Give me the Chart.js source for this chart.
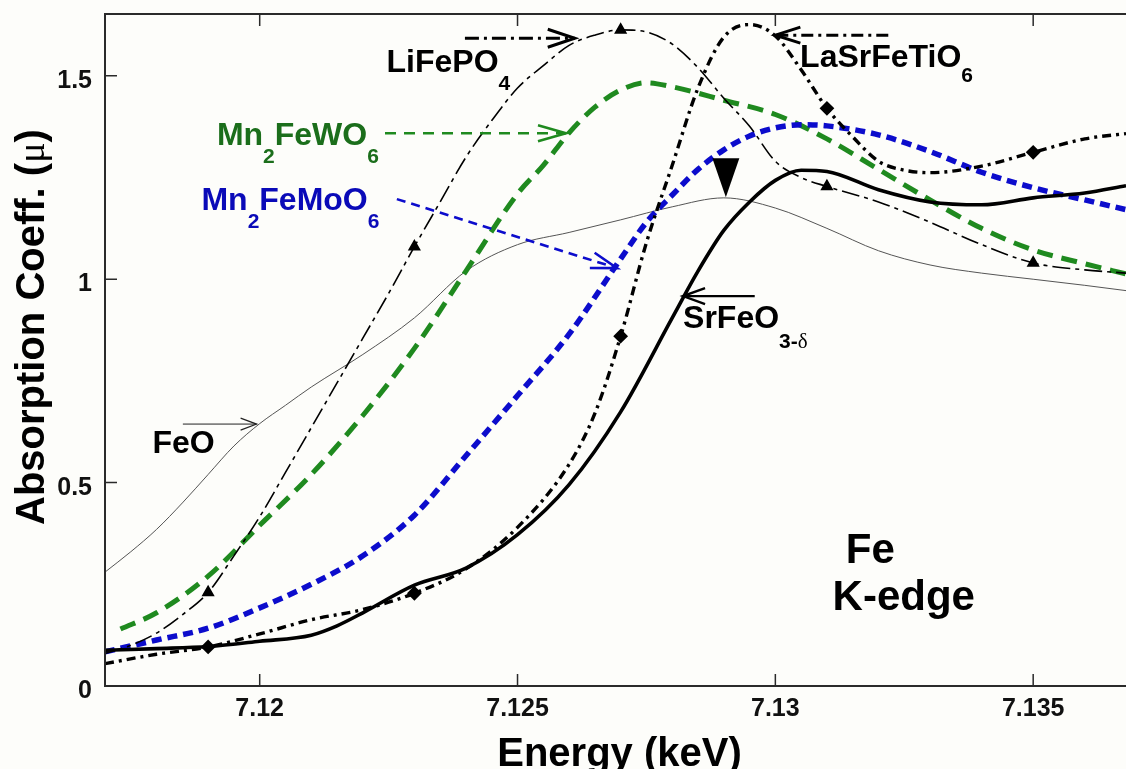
<!DOCTYPE html>
<html>
<head>
<meta charset="utf-8">
<script src="https://cdn.jsdelivr.net/npm/chart.js@4.4.1/dist/chart.umd.min.js"></script>
<style>
html,body{margin:0;padding:0;background:#fdfdfa;}
#wrap{width:1126px;height:769px;position:relative;overflow:hidden;}
canvas{display:block;}
</style>
</head>
<body>
<div id="wrap"><canvas id="c" width="1126" height="769"></canvas></div>
<script>
// ---------------- data ----------------
const xTicks = [7.12, 7.125, 7.13, 7.135];
const yTicks = [0, 0.5, 1, 1.5];
const markerEnergies = [7.119, 7.123, 7.127, 7.131, 7.135];

const energyFeO = [7.117, 7.1175, 7.118, 7.1185, 7.119, 7.1195, 7.12, 7.1205, 7.121, 7.122, 7.123, 7.124, 7.125, 7.126, 7.127, 7.128, 7.129, 7.13, 7.131, 7.132, 7.133, 7.134, 7.135, 7.136, 7.1368];
const muFeO     = [0.28, 0.33, 0.385, 0.45, 0.52, 0.59, 0.645, 0.69, 0.735, 0.815, 0.905, 1.02, 1.085, 1.115, 1.146, 1.178, 1.20, 1.175, 1.125, 1.07, 1.035, 1.015, 1.0, 0.985, 0.972];

const energyLiFePO4 = [7.117, 7.1175, 7.118, 7.1185, 7.119, 7.1195, 7.12, 7.1205, 7.121, 7.1215, 7.122, 7.1225, 7.123, 7.1235, 7.124, 7.1245, 7.125, 7.1255, 7.126, 7.1265, 7.127, 7.1275, 7.128, 7.1285, 7.129, 7.1295, 7.13, 7.1305, 7.131, 7.132, 7.133, 7.134, 7.135, 7.136, 7.1368];
const muLiFePO4     = [0.08, 0.10, 0.13, 0.175, 0.23, 0.32, 0.416, 0.525, 0.635, 0.745, 0.855, 0.965, 1.08, 1.19, 1.30, 1.39, 1.47, 1.525, 1.575, 1.60, 1.613, 1.608, 1.578, 1.52, 1.445, 1.376, 1.29, 1.25, 1.228, 1.19, 1.14, 1.085, 1.04, 1.023, 1.015];

const energyMn2FeWO6 = [7.1173, 7.118, 7.119, 7.12, 7.121, 7.122, 7.123, 7.124, 7.125, 7.1255, 7.126, 7.1265, 7.127, 7.1275, 7.128, 7.129, 7.13, 7.131, 7.132, 7.133, 7.134, 7.135, 7.136, 7.1368];
const muMn2FeWO6     = [0.14, 0.18, 0.27, 0.395, 0.52, 0.665, 0.83, 1.02, 1.21, 1.28, 1.36, 1.423, 1.465, 1.483, 1.473, 1.44, 1.405, 1.345, 1.27, 1.195, 1.125, 1.072, 1.038, 1.013];

const energyMn2FeMoO6 = [7.117, 7.118, 7.119, 7.12, 7.121, 7.122, 7.123, 7.124, 7.125, 7.126, 7.127, 7.1275, 7.128, 7.1285, 7.129, 7.1295, 7.13, 7.1305, 7.131, 7.132, 7.133, 7.134, 7.135, 7.136, 7.1368];
const muMn2FeMoO6     = [0.084, 0.113, 0.142, 0.192, 0.25, 0.32, 0.42, 0.566, 0.714, 0.865, 1.05, 1.14, 1.207, 1.27, 1.318, 1.352, 1.372, 1.38, 1.377, 1.355, 1.314, 1.263, 1.225, 1.195, 1.171];

const energySrFeO3 = [7.117, 7.118, 7.119, 7.12, 7.121, 7.1215, 7.122, 7.123, 7.124, 7.125, 7.126, 7.127, 7.128, 7.1285, 7.129, 7.1295, 7.13, 7.1305, 7.131, 7.132, 7.133, 7.134, 7.135, 7.136, 7.1368];
const muSrFeO3     = [0.088, 0.092, 0.097, 0.11, 0.125, 0.148, 0.18, 0.248, 0.29, 0.372, 0.495, 0.674, 0.905, 1.02, 1.12, 1.19, 1.243, 1.268, 1.265, 1.22, 1.19, 1.183, 1.2, 1.212, 1.23];

const energyLaSrFeTiO6 = [7.117, 7.118, 7.119, 7.12, 7.121, 7.122, 7.123, 7.124, 7.125, 7.126, 7.1265, 7.127, 7.1275, 7.128, 7.1285, 7.129, 7.1295, 7.13, 7.1305, 7.131, 7.1315, 7.132, 7.1325, 7.133, 7.134, 7.135, 7.136, 7.1368];
const muLaSrFeTiO6     = [0.055, 0.078, 0.096, 0.128, 0.163, 0.188, 0.228, 0.288, 0.39, 0.545, 0.67, 0.86, 1.09, 1.28, 1.47, 1.595, 1.626, 1.598, 1.515, 1.42, 1.35, 1.29, 1.268, 1.262, 1.278, 1.312, 1.345, 1.358];

// ---------------- styling ----------------
const FONT = '"Liberation Sans", Arial, Helvetica, sans-serif';
const SERIF = '"Liberation Serif", "DejaVu Serif", serif';
const GREEN = '#1f8a1f';
const GREEN_TXT = '#1b6e1b';
const BLUE = '#0c0ccc';
const BLUE_TXT = '#0a0ab8';

function pts(xs, ys){ return xs.map((x,i)=>({x:x, y:ys[i]})); }
function markerRadius(r){ return ctx => (ctx.raw && markerEnergies.includes(ctx.raw.x)) ? r : 0; }

const datasets = [
  { label:'SrFeO3-δ', data: pts(energySrFeO3, muSrFeO3), borderColor:'#000', borderWidth:3.6, pointRadius:0, order:1 },
  { label:'LaSrFeTiO6', data: pts(energyLaSrFeTiO6, muLaSrFeTiO6), borderColor:'#000', borderWidth:3.4, borderDash:[9,5,3,5],
    pointStyle:'rectRot', pointRadius: markerRadius(5), pointBackgroundColor:'#000', pointBorderColor:'#000', order:2 },
  { label:'LiFePO4', data: pts(energyLiFePO4, muLiFePO4), borderColor:'#000', borderWidth:1.6, borderDash:[18,5,4,5],
    pointStyle:'triangle', pointRadius: markerRadius(6), pointBackgroundColor:'#000', pointBorderColor:'#000', order:3 },
  { label:'Mn2FeMoO6', data: pts(energyMn2FeMoO6, muMn2FeMoO6), borderColor:BLUE, borderWidth:5.5, borderDash:[10,6], pointRadius:0, order:4 },
  { label:'Mn2FeWO6', data: pts(energyMn2FeWO6, muMn2FeWO6), borderColor:GREEN, borderWidth:5, borderDash:[16,9], pointRadius:0, order:5 },
  { label:'FeO', data: pts(energyFeO, muFeO), borderColor:'#555', borderWidth:1, pointRadius:0, order:6 }
];
datasets.forEach(d => { d.showLine = true; d.cubicInterpolationMode = 'monotone'; d.fill = false; d.pointHoverRadius = 0; });

// ---------------- annotations (data coordinates) ----------------
const labelNotes = [
  { parts:[{t:'LiFePO'},{t:'4',sub:true}], x:7.12246, y:1.509, color:'#000', subDy:18 },
  { parts:[{t:'Mn'},{t:'2',sub:true},{t:'FeWO'},{t:'6',sub:true}], x:7.11917, y:1.3296, color:GREEN_TXT, subDy:18 },
  { parts:[{t:'Mn'},{t:'2',sub:true},{t:'FeMoO'},{t:'6',sub:true}], x:7.11887, y:1.1698, color:BLUE_TXT, subDy:18 },
  { parts:[{t:'FeO'}], x:7.11792, y:0.5726, color:'#000', subDy:0 },
  { parts:[{t:'LaSrFeTiO'},{t:'6',sub:true}], x:7.13048, y:1.5213, color:'#000', subDy:15 },
  { parts:[{t:'SrFeO'},{t:'3-',sub:true},{t:'δ',sub:true,serif:true}], x:7.12821, y:0.8798, color:'#000', subDy:20 }
];
const arrowNotes = [
  { x1:7.12398, y1:1.5925, x2:7.12611, y2:1.5925, color:'#000', width:3, dash:[14,5,3,5], head:27, half:9 },
  { x1:7.12243, y1:1.359, x2:7.12594, y2:1.359, color:GREEN, width:2.6, dash:[11,8], head:28, half:8 },
  { x1:7.12266, y1:1.1969, x2:7.12693, y2:1.0273, color:BLUE, width:2.6, dash:[9,6], head:26, half:8 },
  { x1:7.11851, y1:0.6439, x2:7.11994, y2:0.6439, color:'#222', width:1, dash:[], head:16, half:6 },
  { x1:7.13219, y1:1.5999, x2:7.13, y2:1.5999, color:'#000', width:3, dash:[12,5,3,5], head:25, half:8 },
  { x1:7.1296, y1:0.9585, x2:7.12821, y2:0.9585, color:'#000', width:2.4, dash:[], head:22, half:8 }
];
const edgeMarker = { x:7.12904, y:1.2018, w:27, h:39 };
const edgeText = [ {t:'Fe', x:7.13184, y:0.3023}, {t:'K-edge', x:7.13249, y:0.1868} ];

function drawArrow(ctx, a, X, Y){
  const x1=X(a.x1), y1=Y(a.y1), x2=X(a.x2), y2=Y(a.y2);
  ctx.save();
  ctx.strokeStyle=a.color; ctx.lineWidth=a.width; ctx.setLineDash(a.dash);
  ctx.beginPath(); ctx.moveTo(x1,y1); ctx.lineTo(x2,y2); ctx.stroke();
  ctx.setLineDash([]);
  const ang=Math.atan2(y2-y1,x2-x1);
  const bx=x2-a.head*Math.cos(ang), by=y2-a.head*Math.sin(ang);
  const nx=-Math.sin(ang)*a.half, ny=Math.cos(ang)*a.half;
  ctx.lineWidth=Math.max(a.width,1.2);
  ctx.beginPath();
  ctx.moveTo(bx+nx,by+ny); ctx.lineTo(x2,y2); ctx.lineTo(bx-nx,by-ny);
  ctx.stroke();
  ctx.restore();
}
function drawRich(ctx, n, X, Y){
  let cx=X(n.x); const by=Y(n.y);
  ctx.save(); ctx.fillStyle=n.color; ctx.textBaseline='alphabetic'; ctx.textAlign='left';
  for(const p of n.parts){
    const size = p.sub ? 21 : 32;
    ctx.font = p.serif ? `${size}px ${SERIF}` : `bold ${size}px ${FONT}`;
    ctx.fillText(p.t, cx, by + (p.sub ? n.subDy : 0));
    cx += ctx.measureText(p.t).width;
  }
  ctx.restore();
}

const bgPlugin = {
  id:'bg',
  beforeDraw(chart){ const c=chart.ctx; c.save(); c.fillStyle='#fdfdfa'; c.fillRect(0,0,chart.width,chart.height); c.restore(); }
};

const annoPlugin = {
  id:'anno',
  afterDraw(chart){
    const ctx=chart.ctx, xs=chart.scales.x, ys=chart.scales.y, ca=chart.chartArea;
    const X=v=>xs.getPixelForValue(v), Y=v=>ys.getPixelForValue(v);
    // frame
    ctx.save();
    ctx.strokeStyle='#2a2a2a'; ctx.lineWidth=2;
    ctx.beginPath();
    ctx.moveTo(ca.right+2, ca.top); ctx.lineTo(ca.left, ca.top); ctx.lineTo(ca.left, ca.bottom); ctx.lineTo(ca.right+2, ca.bottom);
    ctx.stroke();
    // inward tick marks
    ctx.lineWidth=1.5;
    ctx.beginPath();
    xs.ticks.forEach(t=>{ const px=X(t.value); ctx.moveTo(px, ca.bottom); ctx.lineTo(px, ca.bottom-12); ctx.moveTo(px, ca.top); ctx.lineTo(px, ca.top+12); });
    ys.ticks.forEach(t=>{ const py=Y(t.value); ctx.moveTo(ca.left, py); ctx.lineTo(ca.left+12, py); });
    ctx.stroke();
    ctx.restore();

    // axis titles
    ctx.save();
    ctx.fillStyle='#000';
    ctx.font=`bold 40px ${FONT}`; ctx.textAlign='center'; ctx.textBaseline='alphabetic';
    ctx.fillText('Energy (keV)', (ca.left+ca.right)/2 + 4, 766);
    ctx.restore();

    ctx.save();
    ctx.translate(44, 525); ctx.rotate(-Math.PI/2);
    ctx.fillStyle='#000'; ctx.textBaseline='alphabetic'; ctx.textAlign='left';
    let cx=0;
    const yParts=[{t:'Absorption Coeff. (',f:`bold 40px ${FONT}`},{t:'μ',f:`38px ${SERIF}`},{t:')',f:`bold 40px ${FONT}`}];
    yParts.forEach(p=>{ ctx.font=p.f; ctx.fillText(p.t,cx,0); cx+=ctx.measureText(p.t).width; });
    ctx.restore();

    // arrows & labels
    arrowNotes.forEach(a=>drawArrow(ctx,a,X,Y));
    labelNotes.forEach(n=>drawRich(ctx,n,X,Y));

    // filled down-triangle marking edge
    ctx.save();
    const tx=X(edgeMarker.x), ty=Y(edgeMarker.y);
    ctx.fillStyle='#000';
    ctx.beginPath(); ctx.moveTo(tx,ty); ctx.lineTo(tx-edgeMarker.w/2, ty-edgeMarker.h); ctx.lineTo(tx+edgeMarker.w/2, ty-edgeMarker.h); ctx.closePath(); ctx.fill();
    ctx.restore();

    // Fe K-edge
    ctx.save();
    ctx.fillStyle='#000'; ctx.font=`bold 42px ${FONT}`; ctx.textAlign='center'; ctx.textBaseline='alphabetic';
    edgeText.forEach(e=>ctx.fillText(e.t, X(e.x), Y(e.y)));
    ctx.restore();
  }
};

const tickFont = { family: FONT, weight:'bold', size:25 };

new Chart(document.getElementById('c'), {
  type:'scatter',
  data:{ datasets },
  options:{
    responsive:false, maintainAspectRatio:false, animation:false, devicePixelRatio:1,
    layout:{ padding:{ top:14, right:0, left:0, bottom:0 } },
    plugins:{ legend:{display:false}, tooltip:{enabled:false} },
    events:[],
    scales:{
      x:{
        type:'linear', min:7.117, max:7.1368,
        grid:{display:false, drawTicks:false}, border:{display:false},
        afterBuildTicks: s => { s.ticks = xTicks.map(v=>({value:v})); },
        afterFit: s => { s.height = 83; s.paddingLeft = 0; s.paddingRight = 0; },
        ticks:{ font:tickFont, color:'#111', padding:8, maxRotation:0, autoSkip:false, callback: v => String(v) }
      },
      y:{
        type:'linear', min:0, max:1.652,
        grid:{display:false, drawTicks:false}, border:{display:false},
        afterBuildTicks: s => { s.ticks = yTicks.map(v=>({value:v})); },
        afterFit: s => { s.width = 105; s.paddingTop = 0; s.paddingBottom = 0; },
        ticks:{ font:tickFont, color:'#111', padding:13, labelOffset:5, autoSkip:false, callback: v => String(v) }
      }
    }
  },
  plugins:[bgPlugin, annoPlugin]
});
</script>
</body>
</html>
